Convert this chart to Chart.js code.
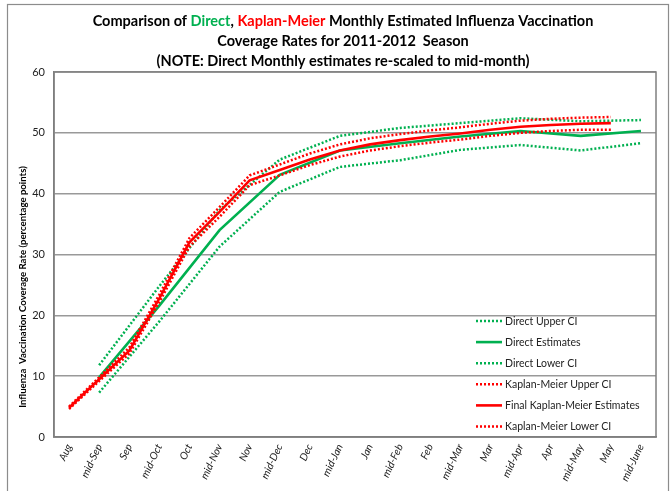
<!DOCTYPE html>
<html>
<head>
<meta charset="utf-8">
<script src="https://cdn.jsdelivr.net/npm/chart.js@4.4.1/dist/chart.umd.min.js"></script>
<style>
  html, body { margin: 0; padding: 0; background: #fff; }
  #wrap { width: 671px; height: 491px; }
</style>
</head>
<body>
<div id="wrap"><canvas id="coverage"></canvas></div>
<script>
const months = ['Aug', 'mid-Sep', 'Sep', 'mid-Oct', 'Oct', 'mid-Nov', 'Nov', 'mid-Dec', 'Dec', 'mid-Jan',
                'Jan', 'mid-Feb', 'Feb', 'mid-Mar', 'Mar', 'mid-Apr', 'Apr', 'mid-May', 'May', 'mid-June'];

// direct estimates only exist at mid-month
const directUpper = [null, 11.8, null, 24.8, null, 37.3, null, 45.6, null, 49.5, null, 50.8, null, 51.6, null, 52.4, null, 51.9, null, 52.1];
const directEst   = [null, 9.8,  null, 21.6, null, 34.0, null, 43.1, null, 47.1, null, 48.3, null, 49.4, null, 50.3, null, 49.5, null, 50.3];
const directLower = [null, 7.3,  null, 19.0, null, 31.3, null, 40.3, null, 44.4, null, 45.5, null, 47.2, null, 48.0, null, 47.1, null, 48.3];

const kmUpper = [5.0, 9.8, 14.7, 23.4, 32.7, 37.8, 43.0, 44.8, 46.6, 48.1, 49.1, 49.8, 50.4, 50.9, 51.5, 52.0, 52.3, 52.5, 52.6, null];
const kmEst   = [4.8, 9.5, 14.2, 22.8, 32.0, 37.0, 42.2, 43.9, 45.6, 47.1, 48.1, 48.8, 49.4, 49.9, 50.5, 51.0, 51.3, 51.5, 51.6, null];
const kmLower = [4.6, 9.2, 13.7, 22.2, 31.3, 36.2, 41.4, 43.0, 44.7, 46.1, 47.1, 47.8, 48.4, 48.9, 49.5, 50.0, 50.3, 50.5, 50.5, null];

const GREEN = '#00B050';
const RED = '#FF0000';
const FONT = 'Lato, "Open Sans", sans-serif';
const yTitle = 'Influenza  Vaccination Coverage Rate (percentage points)';

function serie(label, data, color, dotted, order) {
  return {
    label: label,
    data: data,
    borderColor: color,
    backgroundColor: color,
    borderWidth: dotted ? 2.5 : 2.6,
    borderDash: dotted ? [2, 2] : [],
    borderCapStyle: 'butt',
    pointRadius: 0,
    pointHoverRadius: 0,
    tension: 0,
    spanGaps: true,
    fill: false,
    order: order
  };
}

const titleLines = [
  [['Comparison of ', '#000'], ['Direct', GREEN], [', ', '#000'], ['Kaplan-Meier', RED], [' Monthly Estimated Influenza Vaccination', '#000']],
  [['Coverage Rates for 2011-2012  Season', '#000']],
  [['(NOTE: Direct Monthly estimates re-scaled to mid-month)', '#000']]
];

const extras = {
  id: 'extras',
  beforeDraw(chart) {
    const c = chart.ctx;
    c.save();
    c.fillStyle = '#fff';
    c.fillRect(0, 0, chart.width, chart.height);
    c.strokeStyle = '#8c8c8c';
    c.lineWidth = 1.2;
    c.strokeRect(7.5, 4.5, 661, 500);
    c.restore();
  },
  afterDraw(chart) {
    const c = chart.ctx;
    const a = chart.chartArea;
    c.save();
    // plot frame
    c.strokeStyle = '#7f7f7f';
    c.lineWidth = 1.5;
    c.strokeRect(a.left, a.top, a.right - a.left, a.bottom - a.top);

    // title with coloured words
    c.font = 'bold 14.5px ' + FONT;
    c.textBaseline = 'middle';
    c.textAlign = 'left';
    const cx = 343;
    titleLines.forEach((parts, i) => {
      const total = parts.reduce((s, p) => s + c.measureText(p[0]).width, 0);
      let x = cx - total / 2;
      parts.forEach(p => {
        c.fillStyle = p[1];
        c.fillText(p[0], x, 21 + i * 20);
        x += c.measureText(p[0]).width;
      });
    });

    // y axis title, sits a bit below the plot centre in the reference
    c.save();
    c.translate(23, 287);
    c.rotate(-Math.PI / 2);
    c.textAlign = 'center';
    c.fillStyle = '#000';
    c.font = 'bold 9.6px ' + FONT;
    c.fillText(yTitle, 0, 0);
    c.restore();

    // legend, in the reference's order
    c.font = '10.5px ' + FONT;
    const ds = chart.data.datasets;
    ds.forEach((d, i) => {
      const y = 321 + i * 21.1;
      c.strokeStyle = d.borderColor;
      c.lineWidth = d.borderWidth;
      c.setLineDash(d.borderDash);
      c.beginPath();
      c.moveTo(476, y);
      c.lineTo(502, y);
      c.stroke();
      c.setLineDash([]);
      c.fillStyle = '#222';
      c.fillText(d.label, 505, y + 0.5);
    });
    c.restore();
  }
};

const ctx = document.getElementById('coverage').getContext('2d');
const chart = new Chart(ctx, {
  type: 'line',
  data: {
    labels: months,
    datasets: [
      serie('Direct Upper CI', directUpper, GREEN, true, 3),
      serie('Direct Estimates', directEst, GREEN, false, 2),
      serie('Direct Lower CI', directLower, GREEN, true, 3),
      serie('Kaplan-Meier Upper CI', kmUpper, RED, true, 1),
      serie('Final Kaplan-Meier Estimates', kmEst, RED, false, 0),
      serie('Kaplan-Meier Lower CI', kmLower, RED, true, 1)
    ]
  },
  options: {
    responsive: true,
    maintainAspectRatio: false,
    animation: false,
    devicePixelRatio: 1,
    layout: { padding: { left: 0, top: 72, right: 15, bottom: 0 } },
    plugins: {
      legend: { display: false },
      title: { display: false },
      tooltip: { enabled: false }
    },
    scales: {
      x: {
        offset: true,
        grid: { display: false, drawTicks: false },
        border: { display: true, color: '#7f7f7f', width: 1.5 },
        ticks: {
          autoSkip: false,
          minRotation: 65,
          maxRotation: 65,
          padding: 5,
          color: '#222',
          font: { family: FONT, size: 10.5, style: 'italic' }
        },
        afterFit(scale) { scale.height = 54; }
      },
      y: {
        min: 0,
        max: 60,
        ticks: {
          stepSize: 10,
          padding: 9,
          color: '#222',
          font: { family: FONT, size: 11 }
        },
        grid: { color: '#999', lineWidth: 1.4, drawTicks: false },
        border: { display: true, color: '#7f7f7f', width: 1.5 },
        afterFit(scale) { scale.width = 54; }
      }
    }
  },
  plugins: [extras]
});
</script>
</body>
</html>
